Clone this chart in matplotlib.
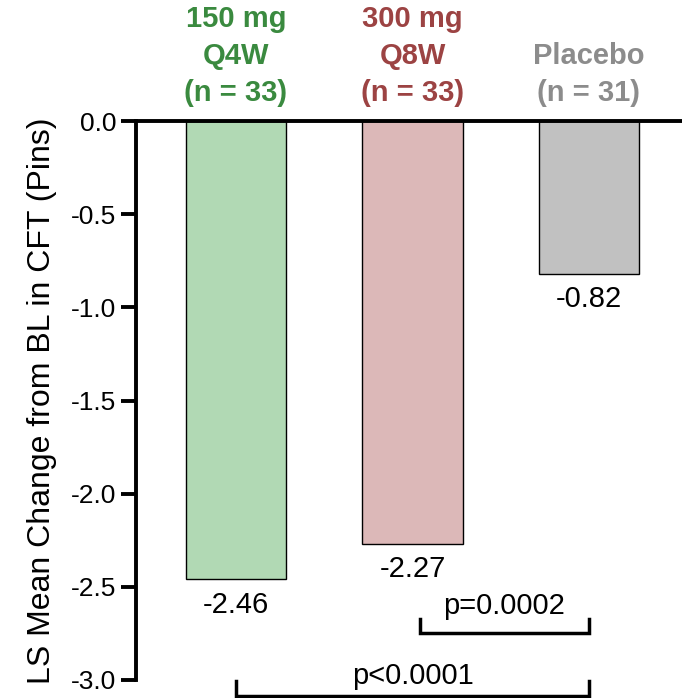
import numpy as np
import matplotlib.pyplot as plt

plt.rcParams['font.family'] = ['Liberation Sans', 'DejaVu Sans']

# data
groups = ['150 mg\nQ4W\n(n = 33)', '300 mg\nQ8W\n(n = 33)', 'Placebo\n(n = 31)']
values = [-2.46, -2.27, -0.82]
value_labels = ['-2.46', '-2.27', '-0.82']
fill_colors = ['#b1d9b4', '#dcb8b8', '#c1c1c1']
text_colors = ['#3a8a3f', '#9c4343', '#8c8c8c']
yticks = [0.0, -0.5, -1.0, -1.5, -2.0, -2.5, -3.0]
p_labels = ['p=0.0002', 'p<0.0001']

fig = plt.figure(figsize=(6.82, 6.98), dpi=100)
ax = fig.add_axes([0.1994, 0.0258, 0.8006, 0.8008])

x = np.arange(len(values))
w = 0.567
ax.bar(x, values, width=w, color=fill_colors, edgecolor='black', linewidth=1.0, zorder=2)

for xi, v, lab in zip(x, values, value_labels):
    ax.text(xi, v - 0.06, lab, ha='center', va='top', fontsize=21)

# group headers above the plot
for xi, g, c in zip(x, groups, text_colors):
    ax.text(xi, 0.075, g, ha='center', va='bottom', fontsize=21, fontweight='bold',
            color=c, linespacing=1.4, clip_on=False)

# significance brackets
def bracket(x0, x1, ytop, ybot, label, ytxt):
    ax.plot([x0, x0, x1, x1], [ytop, ybot, ybot, ytop], color='black', lw=2.5,
            clip_on=False, solid_joinstyle='miter')
    ax.text((x0 + x1) / 2, ytxt, label, ha='center', va='center', fontsize=21,
            clip_on=False)

bracket(1.04, 2.0, -2.675, -2.748, p_labels[0], -2.605)
bracket(0.0, 2.0, -3.008, -3.088, p_labels[1], -2.98)

ax.set_xlim(-0.567, 2.527)
ax.set_ylim(-3.0, 0.0)
ax.set_yticks(yticks)
ax.set_yticklabels(['%.1f' % t for t in yticks], fontsize=19)
ax.set_xticks([])
ax.set_ylabel('LS Mean Change from BL in CFT (Pins)', fontsize=23, labelpad=10)

for s in ['right', 'bottom']:
    ax.spines[s].set_visible(False)
ax.spines['left'].set_linewidth(2.8)
ax.spines['top'].set_linewidth(2.8)
ax.tick_params(axis='y', length=11, width=2.8, pad=3)

fig.savefig('out.png', dpi=100)
